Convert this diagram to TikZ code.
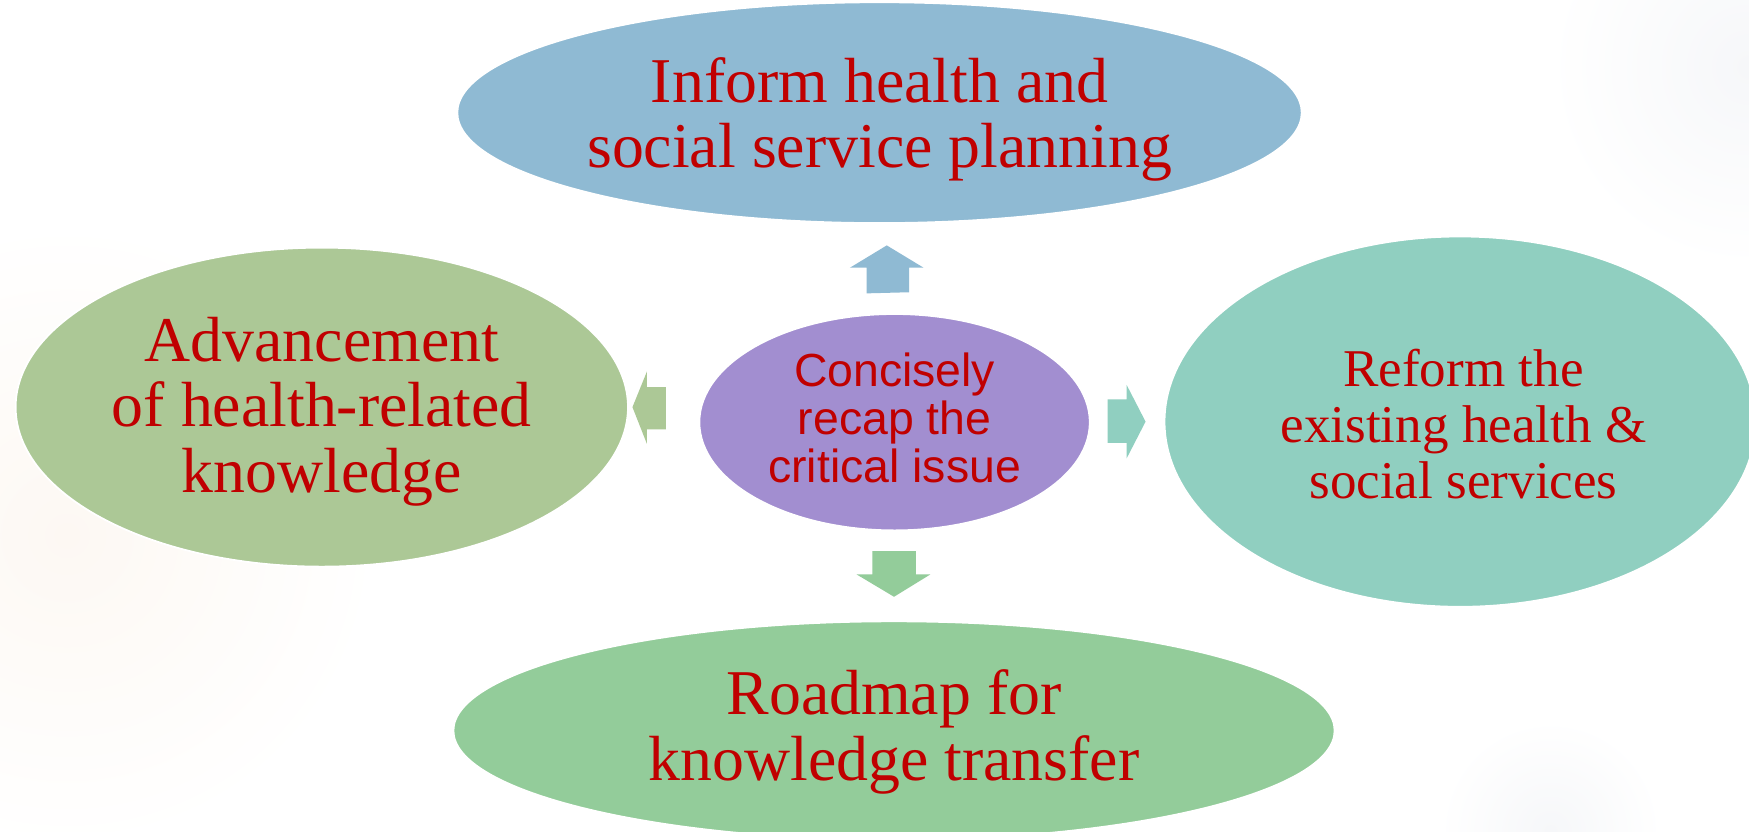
\documentclass[tikz,border=0pt]{standalone}
\usepackage{fontspec}
\setmainfont{Liberation Serif}
\newfontfamily\arialf{Liberation Sans}
\usetikzlibrary{shapes.geometric}
\definecolor{ctop}{RGB}{143,186,211}
\definecolor{cleft}{RGB}{172,200,150}
\definecolor{cright}{RGB}{144,207,192}
\definecolor{cbot}{RGB}{147,204,154}
\definecolor{cmid}{RGB}{162,142,208}
\definecolor{tred}{RGB}{192,0,0}
\definecolor{peach}{RGB}{253,248,243}
\definecolor{greyish}{RGB}{246,247,249}
\begin{document}
\begin{tikzpicture}[x=0.5pt,y=-0.5pt,
  blob/.style={ellipse, inner sep=0pt, draw=white, line width=0.8pt},
  lbl/.style={text=tred, align=center, inner sep=0pt},
  bigtxt/.style={font=\fontsize{28.6}{29.5}\selectfont},
  midtxt/.style={font=\fontsize{23.8}{25}\selectfont},
  sanstxt/.style={font=\arialf\fontsize{20.8}{21.5}\selectfont}]
\useasboundingbox (0,0) rectangle (1568,745);
\fill[white] (0,0) rectangle (1568,745);
\shade[inner color=peach, outer color=white] (60,480) circle[radius=140pt];
\shade[inner color=greyish, outer color=white] (1568,60) circle[radius=90pt];
\shade[inner color=greyish, outer color=white] (1390,745) circle[radius=50pt];
\node[blob, fill=ctop, minimum width=757pt*0.5, minimum height=198pt*0.5] (top) at (788.5,101) {};
\node[lbl, bigtxt] (toptxt) at (788.5,107) {Inform health and\\social service planning};
\node[blob, fill=cleft, minimum width=549pt*0.5, minimum height=286pt*0.5] (left) at (288.5,365) {};
\node[lbl, bigtxt] (lefttxt) at (288.5,369) {Advancement\\of health-related\\knowledge};
\node[blob, fill=cright, minimum width=530pt*0.5, minimum height=332pt*0.5] (right) at (1309,378) {};
\node[lbl, midtxt] (righttxt) at (1312,380) {Reform the\\existing health \&\\social services};
\node[blob, fill=cbot, minimum width=790pt*0.5, minimum height=196pt*0.5] (bot) at (801.5,655) {};
\node[lbl, bigtxt] (bottxt) at (801.5,656) {Roadmap for\\knowledge transfer};
\node[blob, fill=cmid, minimum width=350pt*0.5, minimum height=194pt*0.5] (mid) at (802,378.5) {};
\node[lbl, sanstxt] (midtxt) at (802,375) {Concisely\\recap the\\critical issue};
% block arrows
\fill[ctop] (777,263) -- (777,240) -- (762,240) -- (795,220) -- (828,240) -- (815,240) -- (815,262) -- cycle;
\fill[cleft] (597,347) -- (580,347) -- (580,333) -- (567,365) -- (580,398) -- (580,385) -- (597,385) -- cycle;
\fill[cright] (993,358) -- (1010,358) -- (1010,345) -- (1027,378) -- (1010,411) -- (1010,397) -- (993,397) -- cycle;
\fill[cbot] (782,494) -- (821,494) -- (821,515) -- (834,515) -- (801.5,535) -- (768,515) -- (782,515) -- cycle;
\end{tikzpicture}
\end{document}
